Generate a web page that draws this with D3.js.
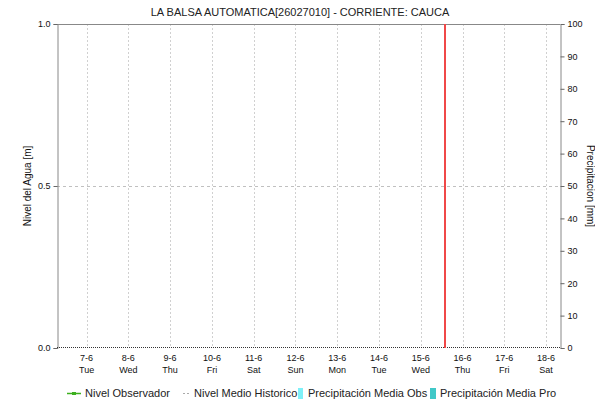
<!DOCTYPE html>
<html><head><meta charset="utf-8">
<script src="https://cdn.jsdelivr.net/npm/d3@7"></script>
<style>body{margin:0;background:#fff;} text{font-family:"Liberation Sans",Arial,sans-serif;}</style>
</head><body>
<svg id="c" width="595" height="402"></svg>
<script>
const title = "LA BALSA AUTOMATICA[26027010] - CORRIENTE: CAUCA";
const dayTicks = ["2022-06-07","2022-06-08","2022-06-09","2022-06-10","2022-06-11","2022-06-12","2022-06-13","2022-06-14","2022-06-15","2022-06-16","2022-06-17","2022-06-18"];
const dayNames = ["Tue","Wed","Thu","Fri","Sat","Sun","Mon","Tue","Wed","Thu","Fri","Sat"];
const domainStart = "2022-06-06T07:00";
const domainEnd = "2022-06-18T08:00";
const nowTime = "2022-06-15T14:00";
const nivelObservado = [];
const nivelMedioTimes = ["2022-06-06T07:00","2022-06-18T08:00"];
const nivelMedioValues = [0, 0];
const leftTicks = [0, 0.5, 1.0];
const rightTicks = [0,10,20,30,40,50,60,70,80,90,100];
const legendItems = ["Nivel Observador","Nivel Medio Historico","Precipitación Media Obs","Precipitación Media Pro"];

const svg = d3.select("#c");
const L=57,R=560,T=24,B=348;
const parse = s => new Date(s);
const x = d3.scaleTime().domain([parse(domainStart), parse(domainEnd)]).range([L,R]);
const yL = d3.scaleLinear().domain([0,1]).range([B,T]);
const yR = d3.scaleLinear().domain([0,100]).range([B,T]);

svg.append("text").attr("x",300).attr("y",16).attr("text-anchor","middle")
  .style("font-size","11px").attr("fill","#222").text(title);

const days = dayTicks.map(d=>new Date(d+"T00:00"));
svg.append("g").selectAll("line").data(days).join("line")
  .attr("x1",d=>Math.round(x(d))+0.5).attr("x2",d=>Math.round(x(d))+0.5)
  .attr("y1",T).attr("y2",B).attr("stroke","#d0d0d0").attr("stroke-dasharray","2,2");
svg.append("line").attr("x1",L).attr("x2",R).attr("y1",Math.round(yL(0.5))+0.5).attr("y2",Math.round(yL(0.5))+0.5)
  .attr("stroke","#c0c0c0").attr("stroke-dasharray","3,3");

svg.append("line").attr("x1",L).attr("x2",R).attr("y1",T+0.5).attr("y2",T+0.5).attr("stroke","#888");

const gL = svg.append("g").attr("transform",`translate(${L+0.5},0)`)
  .call(d3.axisLeft(yL).tickValues(leftTicks).tickFormat(d3.format(".1f")).tickSize(4).tickPadding(3));
const gR = svg.append("g").attr("transform",`translate(${R+0.5},0)`)
  .call(d3.axisRight(yR).tickValues(rightTicks).tickSize(4).tickPadding(3));
[gL,gR].forEach(g=>{
  g.select(".domain").attr("stroke","#888");
  g.selectAll(".tick line").attr("stroke","#666");
  g.selectAll("text").style("font-size","9px").attr("fill","#111").style("font-family","'Liberation Sans',Arial,sans-serif");
});

const gx = svg.append("g");
days.forEach((d,i)=>{
  const t = gx.append("text").attr("x",x(d)).attr("text-anchor","middle").style("font-size","9px").attr("fill","#111");
  t.append("tspan").attr("x",x(d)).attr("y",361).text(`${d.getDate()}-${d.getMonth()+1}`);
  t.append("tspan").attr("x",x(d)).attr("y",373).text(dayNames[i]);
});

const line = d3.line().x(d=>x(parse(d[0]))).y(d=>Math.round(yL(d[1]))-0.5);
svg.append("path").datum(nivelMedioTimes.map((t,i)=>[t,nivelMedioValues[i]]))
  .attr("d",line).attr("fill","none").attr("stroke","#333").attr("stroke-width",1).attr("stroke-dasharray","1,1");

const nx = Math.round(x(parse(nowTime)));
svg.append("line").attr("x1",nx).attr("x2",nx)
  .attr("y1",T).attr("y2",B).style("stroke","#f04848").style("stroke-width","2px");

svg.append("text").attr("transform",`translate(31,${(T+B)/2}) rotate(-90)`).attr("text-anchor","middle")
  .style("font-size","10px").attr("fill","#111").text("Nivel del Agua [m]");
svg.append("text").attr("transform",`translate(587,${(T+B)/2}) rotate(90)`).attr("text-anchor","middle")
  .style("font-size","10px").attr("fill","#111").text("Precipitacion [mm]");

const lg = svg.append("g").style("font-size","11px");
const ly = 393;
lg.append("line").attr("x1",67).attr("x2",81).attr("y1",ly+0.5).attr("y2",ly+0.5).attr("stroke","#3cb01e").attr("stroke-width",1.5);
lg.append("rect").attr("x",72).attr("y",ly-1).attr("width",4).attr("height",3).attr("fill","#3cb01e");
lg.append("text").attr("x",85).attr("y",ly+4).attr("fill","#222").text(legendItems[0]);
lg.append("line").attr("x1",183).attr("x2",191).attr("y1",ly+0.5).attr("y2",ly+0.5).attr("stroke","#aaa").attr("stroke-dasharray","2,2");
lg.append("text").attr("x",194).attr("y",ly+4).attr("fill","#222").text(legendItems[1]);
lg.append("rect").attr("x",298).attr("y",ly-5).attr("width",5).attr("height",11).attr("fill","#7ff0f8");
lg.append("text").attr("x",308).attr("y",ly+4).attr("fill","#222").text(legendItems[2]);
lg.append("rect").attr("x",430).attr("y",ly-5).attr("width",6).attr("height",11).attr("fill","#40c8c8");
lg.append("text").attr("x",440).attr("y",ly+4).attr("fill","#222").text(legendItems[3]);
</script>
</body></html>
